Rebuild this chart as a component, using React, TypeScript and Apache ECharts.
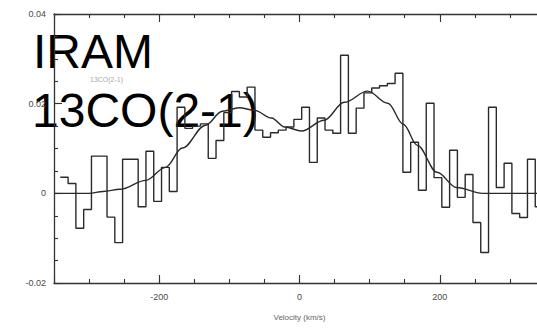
import React, { useEffect, useRef } from 'react';
import * as echarts from 'echarts';

// Channel left edges (km/s) and the last right edge
const channelEdges = [
  -341.0, -329.9, -318.8, -307.7, -296.6, -285.5, -274.4, -263.3, -252.2, -241.1,
  -230.0, -218.9, -207.8, -196.7, -185.6, -174.5, -163.4, -152.3, -141.2, -130.1,
  -119.0, -107.9, -96.8, -85.7, -74.6, -63.5, -52.4, -41.3, -30.2, -19.1,
  -8.0, 3.1, 14.2, 25.3, 36.4, 47.5, 58.6, 69.7, 80.8, 91.9,
  103.0, 114.1, 125.2, 136.3, 147.4, 158.5, 169.6, 180.7, 191.8, 202.9,
  214.0, 225.1, 236.2, 247.3, 258.4, 269.5, 280.6, 291.7, 302.8, 313.9,
  325.0, 336.1, 347.2,
];

// Observed flux per channel
const channelFlux = [
  0.0036, 0.0022, -0.0078, -0.0036, 0.0083, 0.0083, -0.0053, -0.011, 0.0076, 0.0076,
  -0.003, 0.0094, -0.0018, 0.0058, 0.0004, 0.0192, 0.0145, 0.015, 0.0155, 0.0078,
  0.0118, 0.018, 0.0227, 0.0215, 0.0237, 0.0141, 0.0125, 0.0135, 0.0141, 0.0148,
  0.0165, 0.0192, 0.0069, 0.0168, 0.0141, 0.0134, 0.0308, 0.0134, 0.019, 0.0224,
  0.0235, 0.024, 0.0245, 0.0268, 0.0047, 0.0114, 0.0007, 0.0201, 0.0035, -0.0031,
  0.0096, -0.0009, 0.0042, -0.0065, -0.0132, 0.0192, 0.0013, 0.0067, -0.0045, -0.0054,
  0.0076, -0.003,
];

// Fitted profile
const fitVelocity = [-350, -300, -280, -256, -219, -191, -167, -134, -110, -86, -64, -40, -21, 3, 35, 64, 97, 126, 148, 168, 196, 224, 261, 350];
const fitFlux = [0, 0, 0.0004, 0.0009, 0.0029, 0.0058, 0.0101, 0.0152, 0.0183, 0.0191, 0.0185, 0.0168, 0.0148, 0.0139, 0.0163, 0.0203, 0.0228, 0.0201, 0.0154, 0.0107, 0.0047, 0.0013, 0, 0];

const xLabelTicks = [-200, 0, 200];
const yLabelTicks = [-0.02, 0, 0.02, 0.04];

const LINE = '#2a2a2a';
const AXIS = '#333';
const LABEL = '#4a4a4a';
const FONT = 'Liberation Sans, Arial, sans-serif';

export default function App() {
  const ref = useRef<HTMLDivElement>(null);
  useEffect(() => {
    if (!ref.current) return;
    const chart = echarts.init(ref.current, undefined, { renderer: 'svg' });
    const stepData: number[][] = channelFlux.map((v, i) => [channelEdges[i], v]);
    stepData.push([channelEdges[channelEdges.length - 1], channelFlux[channelFlux.length - 1]]);
    const fitData = fitVelocity.map((v, i) => [v, fitFlux[i]]);

    const baseX = {
      type: 'value', min: -350, max: 350, interval: 50,
      splitLine: { show: false },
    };
    const baseY = {
      type: 'value', min: -0.02, max: 0.04, interval: 0.005,
      splitLine: { show: false },
    };
    const fmtY = (v: number) => {
      const r = Math.round(v * 1000);
      return r === 0 ? '0' : (r / 1000).toFixed(2);
    };

    chart.setOption({
      animation: false,
      backgroundColor: '#fff',
      grid: { left: 54, right: -8, top: 14, bottom: 45, containLabel: false, outerBoundsMode: 'none' },
      xAxis: [
        {
          ...baseX, position: 'bottom',
          axisLine: { show: true, onZero: false, lineStyle: { color: AXIS, width: 1.3 } },
          axisTick: { show: true, inside: true, length: 4, lineStyle: { color: AXIS, width: 1.1 } },
          axisLabel: { show: false },
        },
        {
          ...baseX, position: 'bottom',
          axisLine: { show: false, onZero: false },
          axisTick: { show: true, inside: true, length: 8, customValues: xLabelTicks, lineStyle: { color: AXIS, width: 1.1 } },
          axisLabel: {
            show: true, customValues: xLabelTicks, margin: 9, color: LABEL, fontSize: 9,
            fontFamily: FONT,
            formatter: (v: number) => String(Math.round(v)),
          },
          name: 'Velocity (km/s)', nameLocation: 'middle', nameGap: 30,
          nameTextStyle: { color: '#666', fontSize: 8, fontFamily: FONT },
        },
        {
          ...baseX, position: 'top',
          axisLine: { show: true, onZero: false, lineStyle: { color: AXIS, width: 1.3 } },
          axisTick: { show: true, inside: true, length: 4, lineStyle: { color: AXIS, width: 1.1 } },
          axisLabel: { show: false },
        },
        {
          ...baseX, position: 'top',
          axisLine: { show: false, onZero: false },
          axisTick: { show: true, inside: true, length: 8, customValues: xLabelTicks, lineStyle: { color: AXIS, width: 1.1 } },
          axisLabel: { show: false },
        },
      ],
      yAxis: [
        {
          ...baseY, position: 'left',
          axisLine: { show: true, onZero: false, lineStyle: { color: AXIS, width: 1.3 } },
          axisTick: { show: true, inside: true, length: 4, lineStyle: { color: AXIS, width: 1.1 } },
          axisLabel: { show: false },
        },
        {
          ...baseY, position: 'left',
          axisLine: { show: false, onZero: false },
          axisTick: { show: true, inside: true, length: 8, customValues: yLabelTicks, lineStyle: { color: AXIS, width: 1.1 } },
          axisLabel: {
            show: true, customValues: yLabelTicks, margin: 8, color: LABEL, fontSize: 9,
            fontFamily: FONT,
            formatter: fmtY,
          },
        },
      ],
      series: [
        {
          type: 'line', xAxisIndex: 0, yAxisIndex: 0, data: stepData, step: 'end',
          symbol: 'none', lineStyle: { color: LINE, width: 1.4 },
        },
        {
          type: 'line', xAxisIndex: 0, yAxisIndex: 0, data: fitData, smooth: 0.35,
          smoothMonotone: 'x',
          symbol: 'none', lineStyle: { color: LINE, width: 1.4 },
        },
      ],
      graphic: [
        {
          type: 'text', left: 90, top: 76, silent: true,
          style: { text: '13CO(2-1)', fontSize: 7, fill: '#aaa', fontFamily: FONT },
        },
        {
          type: 'text', x: 33, y: 51, silent: true,
          style: {
            text: 'IRAM', fontSize: 48, fill: '#000', verticalAlign: 'middle', align: 'left',
            fontFamily: FONT,
          },
        },
        {
          type: 'text', x: 32, y: 110, silent: true,
          style: {
            text: '13CO(2-1)', fontSize: 48, fill: '#000', verticalAlign: 'middle', align: 'left',
            fontFamily: FONT,
          },
        },
      ],
    });
    return () => chart.dispose();
  }, []);
  return (
    <div
      ref={ref}
      style={{ position: 'fixed', left: 0, top: 0, width: 537, height: 328, background: '#fff' }}
    />
  );
}
